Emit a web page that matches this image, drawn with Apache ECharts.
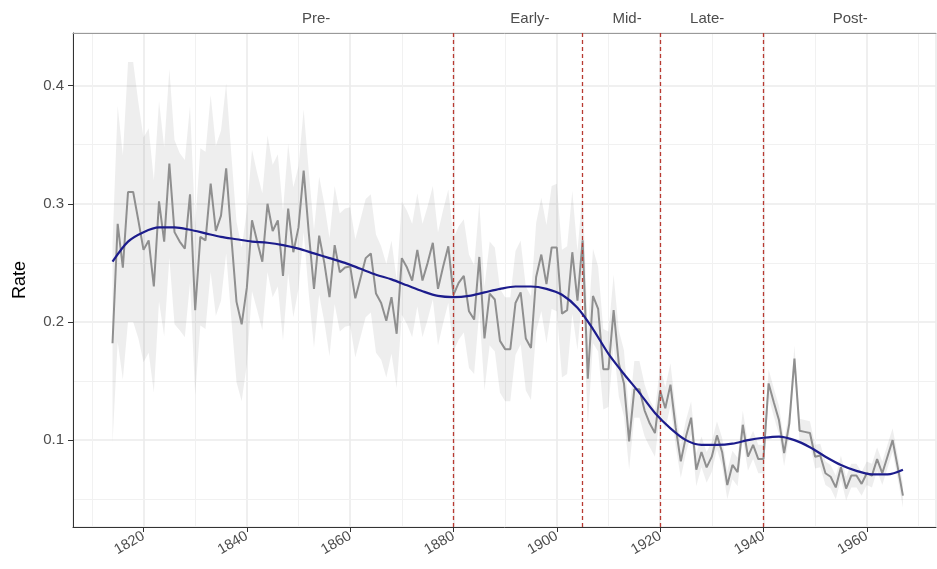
<!DOCTYPE html>
<html><head><meta charset="utf-8">
<script src="https://cdn.jsdelivr.net/npm/echarts@6/dist/echarts.min.js"></script>
<style>html,body{margin:0;padding:0;background:#fff}#c{width:937px;height:569px}</style>
</head><body><div id="c"></div>
<script>
// ---- data ----
const firstYear = 1814;
const rate = [
 0.182,0.283,0.246,0.310,0.310,0.286,0.261,0.269,0.230,0.302, // 1814-1823
 0.268,0.334,0.276,0.268,0.262,0.308,0.210,0.272,0.269,0.317, // 1824-1833
 0.277,0.290,0.330,0.272,0.217,0.198,0.229,0.286,0.268,0.251, // 1834-1843
 0.300,0.277,0.286,0.239,0.296,0.259,0.280,0.328,0.275,0.228, // 1844-1853
 0.273,0.250,0.221,0.265,0.242,0.246,0.247,0.220,0.237,0.254, // 1854-1863
 0.258,0.224,0.216,0.201,0.221,0.190,0.254,0.246,0.235,0.261, // 1864-1873
 0.235,0.250,0.267,0.228,0.247,0.264,0.223,0.233,0.239,0.209, // 1874-1883
 0.202,0.255,0.186,0.224,0.219,0.184,0.177,0.177,0.216,0.225, // 1884-1893
 0.186,0.178,0.238,0.257,0.232,0.263,0.263,0.207,0.210,0.259, // 1894-1903
 0.218,0.269,0.152,0.222,0.211,0.160,0.160,0.210,0.165,0.148, // 1904-1913
 0.099,0.143,0.143,0.125,0.114,0.106,0.142,0.127,0.147,0.111, // 1914-1923
 0.082,0.103,0.119,0.075,0.090,0.077,0.086,0.104,0.090,0.062, // 1924-1933
 0.079,0.073,0.113,0.086,0.096,0.084,0.084,0.148,0.132,0.117, // 1934-1943
 0.089,0.114,0.169,0.108,0.107,0.106,0.086,0.087,0.072,0.069, // 1944-1953
 0.060,0.077,0.059,0.070,0.070,0.063,0.072,0.070,0.084,0.072, // 1954-1963
 0.086,0.100,0.077,0.053                                      // 1964-1967
];
// half width of the grey confidence ribbon, per year
const ciHalf = [
 0.085,0.100,0.095,0.110,0.110,0.100,0.095,0.095,0.090,0.085,
 0.080,0.080,0.078,0.075,0.075,0.075,0.072,0.075,0.075,0.075,
 0.072,0.072,0.072,0.070,0.068,0.065,0.065,0.060,0.058,0.058,
 0.058,0.056,0.056,0.055,0.055,0.055,0.052,0.052,0.052,0.050,
 0.050,0.050,0.050,0.050,0.050,0.050,0.050,0.050,0.050,0.050,
 0.050,0.050,0.048,0.048,0.048,0.046,0.048,0.048,0.048,0.048,
 0.048,0.048,0.048,0.048,0.048,0.048,0.048,0.048,0.048,0.048,
 0.046,0.046,0.044,0.044,0.044,0.044,0.044,0.044,0.044,0.044,
 0.044,0.044,0.046,0.048,0.050,0.052,0.054,0.054,0.054,0.052,
 0.042,0.042,0.040,0.040,0.036,0.034,0.032,0.030,0.028,0.028,
 0.024,0.024,0.024,0.022,0.020,0.020,0.020,0.018,0.018,0.016,
 0.014,0.014,0.014,0.014,0.013,0.013,0.013,0.012,0.012,0.012,
 0.012,0.012,0.012,0.012,0.012,0.012,0.012,0.012,0.012,0.012,
 0.011,0.011,0.011,0.010,0.010,0.010,0.010,0.010,0.010,0.010,
 0.010,0.010,0.010,0.010,0.010,0.010,0.010,0.010,0.010,0.010,
 0.010,0.010,0.010,0.010
];
// smooth trend read every three years
const trendYears = [1814,1817,1820,1823,1826,1829,1832,1835,1838,1841,1844,1847,1850,1853,1856,1859,1862,1865,1868,1871,1874,1877,1880,1883,1886,1889,1892,1895,1898,1901,1904,1907,1910,1913,1916,1919,1922,1925,1928,1931,1934,1937,1940,1943,1946,1949,1952,1955,1958,1961,1964,1967];
const trendRate  = [0.251,0.268,0.276,0.280,0.280,0.278,0.275,0.272,0.270,0.268,0.267,0.265,0.262,0.258,0.254,0.250,0.245,0.240,0.236,0.231,0.226,0.222,0.221,0.222,0.225,0.228,0.230,0.230,0.228,0.223,0.212,0.194,0.173,0.156,0.140,0.123,0.110,0.100,0.096,0.096,0.097,0.100,0.102,0.103,0.100,0.094,0.086,0.079,0.074,0.071,0.071,0.075];
const phaseBreaks = [1880, 1905, 1920, 1940];
const phaseNames = ['Pre-', 'Early-', 'Mid-', 'Late-', 'Post-'];
const phaseLabelAt = [1853.4, 1894.8, 1913.6, 1929.1, 1956.8];
const xRange = [1806.35, 1973.4];
const yRange = [0.0265, 0.4445];
const xMinorLines = [1810, 1830, 1850, 1870, 1890, 1910, 1930, 1950, 1970];
const yMinorLines = [0.05, 0.15, 0.25, 0.35];

// ---- build ----
const years = rate.map((_, i) => firstYear + i);
const rateData = years.map((y, i) => [y, rate[i]]);
const trendData = trendYears.map((y, i) => [y, trendRate[i]]);
const FONT = 'Liberation Sans, Arial, sans-serif';

const chart = echarts.init(document.getElementById('c'), null, {renderer: 'canvas'});
chart.setOption({
  animation: false,
  backgroundColor: '#ffffff',
  grid: {left: 73, right: 1, top: 33, bottom: 42, containLabel: false, outerBoundsMode: 'none'},
  xAxis: [{
    type: 'value', min: xRange[0], max: xRange[1], splitNumber: 8,
    axisLine: {show: true, onZero: false, lineStyle: {color: '#333333', width: 1}},
    axisTick: {show: true, length: 5, lineStyle: {color: '#333333'}},
    axisLabel: {show: true, rotate: 30, margin: 8, color: '#4d4d4d', fontSize: 14.5, fontFamily: FONT,
      showMinLabel: false, showMaxLabel: false, formatter: v => String(Math.round(v))},
    splitLine: {show: true, lineStyle: {color: '#ebebeb', width: 1.6}}
  }, {
    type: 'value', position: 'top', min: xRange[0], max: xRange[1],
    axisLine: {show: true, onZero: false, lineStyle: {color: '#9a9a9a', width: 1}},
    axisTick: {show: false},
    splitLine: {show: false},
    axisLabel: {show: true, customValues: phaseLabelAt, margin: 7, color: '#4d4d4d', fontSize: 15, fontFamily: FONT,
      formatter: function (v) {
        let best = 0;
        for (let i = 1; i < phaseLabelAt.length; i++) if (Math.abs(phaseLabelAt[i] - v) < Math.abs(phaseLabelAt[best] - v)) best = i;
        return phaseNames[best];
      }}
  }],
  yAxis: [{
    type: 'value', min: yRange[0], max: yRange[1], splitNumber: 4,
    name: 'Rate', nameLocation: 'middle', nameGap: 44, nameRotate: 90,
    nameTextStyle: {color: '#000000', fontSize: 18, fontFamily: FONT},
    axisLine: {show: true, onZero: false, lineStyle: {color: '#333333', width: 1}},
    axisTick: {show: true, length: 5, lineStyle: {color: '#333333'}},
    axisLabel: {show: true, margin: 9, color: '#4d4d4d', fontSize: 15, fontFamily: FONT,
      showMinLabel: false, showMaxLabel: false, formatter: v => v.toFixed(1)},
    splitLine: {show: true, lineStyle: {color: '#ebebeb', width: 1.6}}
  }],
  series: [
    {
      name: 'minorGrid', type: 'line', z: 0, silent: true,
      data: [[xRange[0], yRange[0]]], symbol: 'none', lineStyle: {width: 0, opacity: 0},
      markLine: {
        z: 0, silent: true, symbol: 'none', animation: false,
        label: {show: false},
        lineStyle: {color: '#f1f1f1', width: 1, type: 'solid'},
        data: xMinorLines.map(v => ({xAxis: v})).concat(yMinorLines.map(v => ({yAxis: v})))
      }
    },
    {
      name: 'ci', type: 'custom', z: 1, silent: true, clip: true,
      data: [[years[0], rate[0]]],
      renderItem: function (params, api) {
        const pts = [];
        for (let i = 0; i < years.length; i++) pts.push(api.coord([years[i], rate[i] + ciHalf[i]]));
        for (let i = years.length - 1; i >= 0; i--) pts.push(api.coord([years[i], rate[i] - ciHalf[i]]));
        return {type: 'polygon', shape: {points: pts}, style: {fill: 'rgba(0,0,0,0.065)'}};
      }
    },
    {
      name: 'rate', type: 'line', z: 2, data: rateData, symbol: 'none', smooth: false,
      lineStyle: {color: '#8f8f8f', width: 2}
    },
    {
      name: 'phases', type: 'line', z: 3, data: [[xRange[0], yRange[0]]], symbol: 'none',
      lineStyle: {width: 0, opacity: 0},
      markLine: {
        z: 3, silent: true, symbol: 'none', animation: false, label: {show: false},
        lineStyle: {color: '#b83a32', width: 1.3, type: [4, 3], opacity: 1},
        data: phaseBreaks.map(v => ({xAxis: v}))
      }
    },
    {
      name: 'trend', type: 'line', z: 4, data: trendData, symbol: 'none', smooth: 0.3,
      lineStyle: {color: '#1c1c8c', width: 2.2}
    }
  ]
});
</script></body></html>
